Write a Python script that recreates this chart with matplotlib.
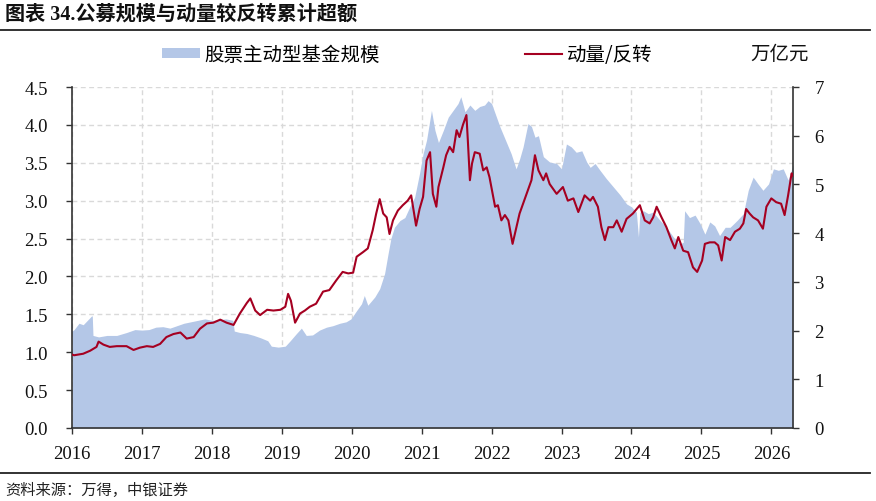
import matplotlib
matplotlib.use("Agg")
import matplotlib.pyplot as plt
from matplotlib.patches import Patch
from matplotlib.lines import Line2D
from matplotlib.ticker import FormatStrFormatter

# ---------------- data ----------------
# 股票主动型基金规模 (万亿元, right axis); time in decimal years
fund_t = [2016.00, 2016.03, 2016.10, 2016.16, 2016.22, 2016.28, 2016.29, 2016.30, 2016.38, 2016.50,
          2016.64, 2016.78, 2016.90, 2017.00, 2017.10, 2017.20, 2017.30, 2017.40, 2017.50, 2017.60,
          2017.70, 2017.80, 2017.90, 2018.00, 2018.10, 2018.20, 2018.30, 2018.32, 2018.40, 2018.50,
          2018.60, 2018.70, 2018.80, 2018.85, 2018.95, 2019.05, 2019.12, 2019.21, 2019.28, 2019.35,
          2019.44, 2019.54, 2019.64, 2019.73, 2019.83, 2019.92, 2019.99, 2020.07, 2020.14, 2020.18,
          2020.23, 2020.33, 2020.40, 2020.47, 2020.52, 2020.56, 2020.61, 2020.69, 2020.76, 2020.83,
          2020.90, 2020.97, 2021.02, 2021.07, 2021.14, 2021.19, 2021.24, 2021.31, 2021.38, 2021.45,
          2021.52, 2021.56, 2021.62, 2021.69, 2021.76, 2021.83, 2021.90, 2021.95, 2022.00, 2022.05,
          2022.12, 2022.19, 2022.28, 2022.35, 2022.40, 2022.45, 2022.52, 2022.57, 2022.62, 2022.67,
          2022.74, 2022.83, 2022.93, 2023.00, 2023.07, 2023.14, 2023.21, 2023.29, 2023.36, 2023.41,
          2023.48, 2023.55, 2023.64, 2023.74, 2023.84, 2023.93, 2024.00, 2024.07, 2024.10, 2024.12,
          2024.17, 2024.24, 2024.31, 2024.41, 2024.50, 2024.60, 2024.69, 2024.74, 2024.76, 2024.83,
          2024.91, 2024.98, 2025.05, 2025.12, 2025.19, 2025.26, 2025.34, 2025.41, 2025.51, 2025.60,
          2025.67, 2025.74, 2025.81, 2025.88, 2025.96, 2026.03, 2026.10, 2026.17, 2026.24, 2026.31]
fund_v = [1.99, 2.02, 2.15, 2.12, 2.21, 2.30, 2.30, 1.90, 1.87, 1.90,
          1.90, 1.96, 2.02, 2.01, 2.02, 2.07, 2.08, 2.05, 2.10, 2.15,
          2.18, 2.21, 2.24, 2.21, 2.22, 2.24, 2.21, 1.99, 1.96, 1.94,
          1.90, 1.85, 1.79, 1.68, 1.66, 1.68, 1.79, 1.94, 2.05, 1.90,
          1.91, 2.01, 2.07, 2.10, 2.15, 2.18, 2.24, 2.41, 2.55, 2.72,
          2.52, 2.69, 2.86, 3.17, 3.58, 3.89, 4.12, 4.26, 4.32, 4.54,
          4.74, 5.23, 5.63, 5.91, 6.52, 6.11, 5.86, 6.11, 6.38, 6.52,
          6.66, 6.80, 6.49, 6.63, 6.52, 6.60, 6.63, 6.72, 6.66, 6.46,
          6.18, 5.94, 5.63, 5.32, 5.52, 5.77, 6.25, 6.19, 5.97, 6.00,
          5.57, 5.46, 5.43, 5.32, 5.83, 5.77, 5.66, 5.69, 5.46, 5.35,
          5.43, 5.29, 5.12, 4.95, 4.78, 4.60, 4.54, 4.43, 3.92, 4.43,
          4.46, 4.40, 4.43, 4.26, 4.12, 3.92, 3.78, 3.81, 4.46, 4.32,
          4.37, 4.20, 3.98, 4.23, 4.15, 3.95, 4.12, 4.12, 4.26, 4.40,
          4.88, 5.15, 5.01, 4.88, 5.01, 5.32, 5.29, 5.32, 5.09, 5.40]

# 动量/反转 (left axis)
mom_t = [2016.00, 2016.03, 2016.16, 2016.26, 2016.35, 2016.38, 2016.45, 2016.54, 2016.64, 2016.78,
         2016.88, 2016.97, 2017.07, 2017.16, 2017.26, 2017.35, 2017.45, 2017.55, 2017.64, 2017.74,
         2017.83, 2017.93, 2018.02, 2018.12, 2018.21, 2018.31, 2018.40, 2018.50, 2018.55, 2018.62,
         2018.69, 2018.79, 2018.88, 2018.98, 2019.05, 2019.09, 2019.13, 2019.19, 2019.26, 2019.33,
         2019.40, 2019.49, 2019.59, 2019.68, 2019.78, 2019.87, 2019.95, 2020.02, 2020.07, 2020.16,
         2020.23, 2020.30, 2020.35, 2020.40, 2020.45, 2020.50, 2020.54, 2020.59, 2020.66, 2020.73,
         2020.80, 2020.85, 2020.92, 2020.97, 2021.02, 2021.07, 2021.12, 2021.16, 2021.21, 2021.24,
         2021.31, 2021.35, 2021.40, 2021.45, 2021.50, 2021.54, 2021.59, 2021.64, 2021.66, 2021.69,
         2021.72, 2021.76, 2021.83, 2021.88, 2021.93, 2021.97, 2022.05, 2022.09, 2022.14, 2022.19,
         2022.24, 2022.30, 2022.36, 2022.40, 2022.45, 2022.52, 2022.57, 2022.62, 2022.67, 2022.74,
         2022.78, 2022.83, 2022.93, 2023.02, 2023.09, 2023.17, 2023.24, 2023.33, 2023.41, 2023.45,
         2023.52, 2023.57, 2023.62, 2023.67, 2023.74, 2023.79, 2023.86, 2023.93, 2024.02, 2024.12,
         2024.19, 2024.26, 2024.31, 2024.36, 2024.43, 2024.50, 2024.57, 2024.62, 2024.67, 2024.74,
         2024.81, 2024.88, 2024.94, 2025.01, 2025.05, 2025.12, 2025.19, 2025.24, 2025.29, 2025.34,
         2025.41, 2025.48, 2025.55, 2025.60, 2025.64, 2025.69, 2025.74, 2025.81, 2025.88, 2025.93,
         2026.00, 2026.07, 2026.14, 2026.19, 2026.24, 2026.29, 2026.31]
mom_v = [0.97, 0.96, 0.98, 1.02, 1.07, 1.14, 1.10, 1.07, 1.08, 1.08,
         1.03, 1.06, 1.08, 1.07, 1.11, 1.20, 1.24, 1.26, 1.18, 1.20,
         1.31, 1.38, 1.39, 1.43, 1.39, 1.36, 1.51, 1.65, 1.71, 1.55,
         1.49, 1.56, 1.55, 1.56, 1.60, 1.77, 1.68, 1.39, 1.51, 1.55,
         1.60, 1.64, 1.80, 1.82, 1.95, 2.06, 2.04, 2.05, 2.26, 2.32,
         2.37, 2.61, 2.83, 3.02, 2.83, 2.78, 2.56, 2.74, 2.87, 2.94,
         3.00, 3.07, 2.67, 2.89, 3.05, 3.53, 3.64, 3.09, 2.92, 3.18,
         3.44, 3.60, 3.71, 3.64, 3.93, 3.84, 4.00, 4.13, 3.80, 3.27,
         3.49, 3.64, 3.62, 3.40, 3.44, 3.31, 2.92, 2.94, 2.74, 2.81,
         2.74, 2.43, 2.67, 2.83, 2.96, 3.14, 3.27, 3.60, 3.40, 3.27,
         3.36, 3.22, 3.09, 3.18, 3.00, 3.03, 2.85, 3.07, 3.00, 3.05,
         2.92, 2.65, 2.48, 2.65, 2.65, 2.74, 2.59, 2.76, 2.83, 2.94,
         2.74, 2.70, 2.78, 2.92, 2.78, 2.65, 2.48, 2.37, 2.52, 2.34,
         2.32, 2.12, 2.06, 2.21, 2.43, 2.45, 2.45, 2.41, 2.21, 2.52,
         2.48, 2.59, 2.63, 2.70, 2.89, 2.83, 2.78, 2.74, 2.63, 2.92,
         3.03, 2.98, 2.96, 2.81, 3.07, 3.36, 3.33]

year_ticks = list(range(2016, 2027))
left_ticks = [0.0, 0.5, 1.0, 1.5, 2.0, 2.5, 3.0, 3.5, 4.0, 4.5]
right_ticks = [0, 1, 2, 3, 4, 5, 6, 7]

legend_labels = ["股票主动型基金规模", "动量/反转"]
unit_label = "万亿元"
title = "图表 34.公募规模与动量较反转累计超额"
source = "资料来源：万得，中银证券"

# ---------------- style ----------------
AREA = "#B4C7E7"
LINE = "#A50021"
SPINE = "#333333"
CJK = ["Noto Sans CJK SC"]
NUM = ["Liberation Serif", "Noto Sans CJK SC"]
plt.rcParams["font.family"] = NUM

W, H = 876, 502
fig = plt.figure(figsize=(W / 100, H / 100), dpi=100)
rect = [72 / W, 1 - 429 / H, (793 - 72) / W, (429 - 88) / H]

ax = fig.add_axes(rect)          # grid, left & bottom axes
ax2 = ax.twinx()                 # area on right axis
ax3 = fig.add_axes(rect, sharex=ax, sharey=ax)  # line on top

ax.set_xlim(2016, 2026.31)
ax.set_ylim(0, 4.5)
ax2.set_ylim(0, 7)

ax2.fill_between(fund_t, fund_v, 0, color=AREA, lw=0)
ax3.plot(mom_t, mom_v, color=LINE, lw=1.5)
ax3.axis("off")

ax.set_xticks(year_ticks)
ax.set_xticklabels([str(y) for y in year_ticks])
ax.set_yticks(left_ticks)
ax.yaxis.set_major_formatter(FormatStrFormatter("%.1f"))
ax2.set_yticks(right_ticks)

ax.grid(True, color="#d9d9d9", lw=1.0, ls=(0, (3.5, 2.5)))
ax.set_axisbelow(True)

for a in (ax, ax2):
    for s in a.spines.values():
        s.set_visible(False)
for k in ("left", "bottom", "right"):
    ax2.spines[k].set_visible(True)
    ax2.spines[k].set_color(SPINE)
    ax2.spines[k].set_linewidth(1.2)

ax.tick_params(axis="y", direction="out", length=4.5, width=1, color=SPINE,
               labelsize=13.5, pad=13, labelcolor="#111111")
ax.tick_params(axis="x", direction="out", length=4.5, width=1, color=SPINE,
               labelsize=13.5, pad=8, labelcolor="#111111")
ax2.tick_params(axis="y", direction="out", length=4.5, width=1, color=SPINE,
                labelsize=13.5, pad=11, labelcolor="#111111")

# legend
fs_leg = 14
handles = [Patch(facecolor=AREA, edgecolor="none"), Line2D([], [], color=LINE, lw=1.5)]
fig.legend(handles, legend_labels, loc="center left", bbox_to_anchor=(162 / W, 1 - 55 / H),
           bbox_transform=fig.transFigure, ncol=2, frameon=False,
           prop={"family": CJK, "size": fs_leg}, handlelength=1.95, handleheight=0.42,
           handletextpad=0.22, columnspacing=7.45, borderpad=0, borderaxespad=0)
fig.text(750 / W, 1 - 55 / H, unit_label, family=CJK, fontsize=fs_leg, va="center", ha="left",
         color="#111111")

# title & source
fig.text(5 / W, 1 - 15 / H, title, family=NUM, fontsize=14.5, fontweight="bold",
         va="center", ha="left", color="#111111")
fig.add_artist(Line2D([0, 870 / W], [1 - 31 / H] * 2, transform=fig.transFigure,
                      color="#222222", lw=1.3))
fig.add_artist(Line2D([0, 870 / W], [1 - 474 / H] * 2, transform=fig.transFigure,
                      color="#222222", lw=1.3))
fig.text(5 / W, 1 - 490 / H, source, family=CJK, fontsize=11, style="italic",
         va="center", ha="left", color="#222222")

fig.savefig("out.png", dpi=100)
